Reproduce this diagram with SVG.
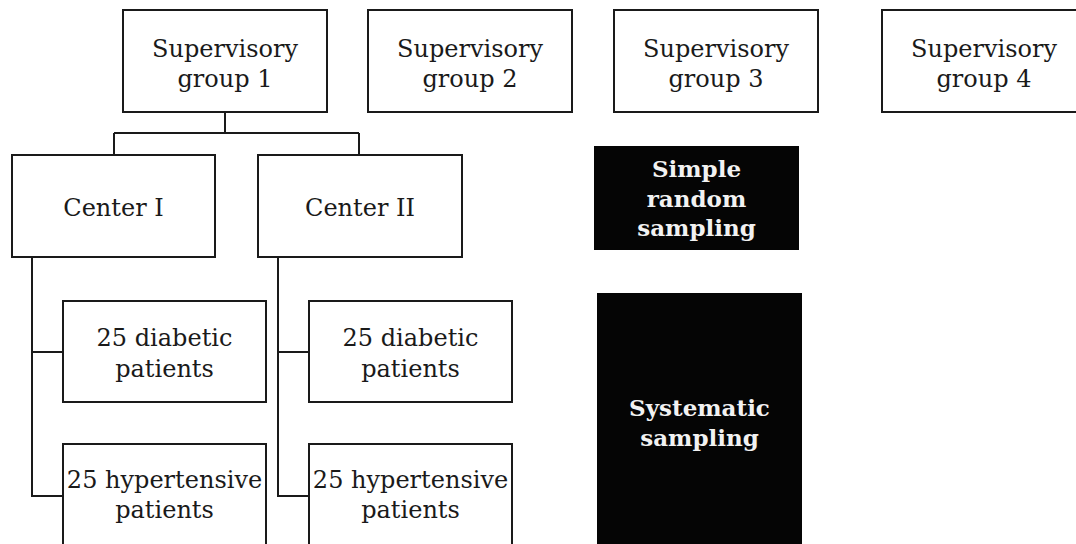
<svg xmlns="http://www.w3.org/2000/svg" width="1076" height="544" viewBox="0 0 1076 544">
<style>
.box{fill:#fff;stroke:#1a1a1a;stroke-width:2}
.dark{fill:#050505;stroke:none}
.t{font-family:"DejaVu Serif","Liberation Serif",serif;font-size:24px;fill:#1a1a1a;text-anchor:middle}
.w{font-family:"DejaVu Serif","Liberation Serif",serif;font-size:23px;font-weight:bold;fill:#f2f2f2;text-anchor:middle}
.c{fill:none;stroke:#1a1a1a;stroke-width:2}
</style>
<rect width="1076" height="544" fill="#fff"/>
<g id="connectors">
<path class="c" d="M225 112V133M114 133H359M114 133V155M359 133V155"/>
<path class="c" d="M32 257V496H63M32 352H63"/>
<path class="c" d="M278 257V496H309M278 352H309"/>
</g>
<g id="sg1"><rect class="box" x="123" y="10" width="204" height="102"/><text class="t" x="225" y="57">Supervisory</text><text class="t" x="225" y="87">group 1</text></g>
<g id="sg2"><rect class="box" x="368" y="10" width="204" height="102"/><text class="t" x="470" y="57">Supervisory</text><text class="t" x="470" y="87">group 2</text></g>
<g id="sg3"><rect class="box" x="614" y="10" width="204" height="102"/><text class="t" x="716" y="57">Supervisory</text><text class="t" x="716" y="87">group 3</text></g>
<g id="sg4"><rect class="box" x="882" y="10" width="204" height="102"/><text class="t" x="984" y="57">Supervisory</text><text class="t" x="984" y="87">group 4</text></g>
<g id="center1"><rect class="box" x="12" y="155" width="203" height="102"/><text class="t" x="113.5" y="216">Center I</text></g>
<g id="center2"><rect class="box" x="258" y="155" width="204" height="102"/><text class="t" x="360" y="216">Center II</text></g>
<g id="diab1"><rect class="box" x="63" y="301" width="203" height="101"/><text class="t" x="164.5" y="346">25 diabetic</text><text class="t" x="164.5" y="377">patients</text></g>
<g id="hyp1"><rect class="box" x="63" y="444" width="203" height="110"/><text class="t" x="164.5" y="488">25 hypertensive</text><text class="t" x="164.5" y="518">patients</text></g>
<g id="diab2"><rect class="box" x="309" y="301" width="203" height="101"/><text class="t" x="410.5" y="346">25 diabetic</text><text class="t" x="410.5" y="377">patients</text></g>
<g id="hyp2"><rect class="box" x="309" y="444" width="203" height="110"/><text class="t" x="410.5" y="488">25 hypertensive</text><text class="t" x="410.5" y="518">patients</text></g>
<g id="simple"><rect class="dark" x="594" y="146" width="205" height="104"/><text class="w" x="696.5" y="177">Simple</text><text class="w" x="696.5" y="207">random</text><text class="w" x="696.5" y="236">sampling</text></g>
<g id="systematic"><rect class="dark" x="597" y="293" width="205" height="260"/><text class="w" x="699.5" y="416">Systematic</text><text class="w" x="699.5" y="446">sampling</text></g>
</svg>
